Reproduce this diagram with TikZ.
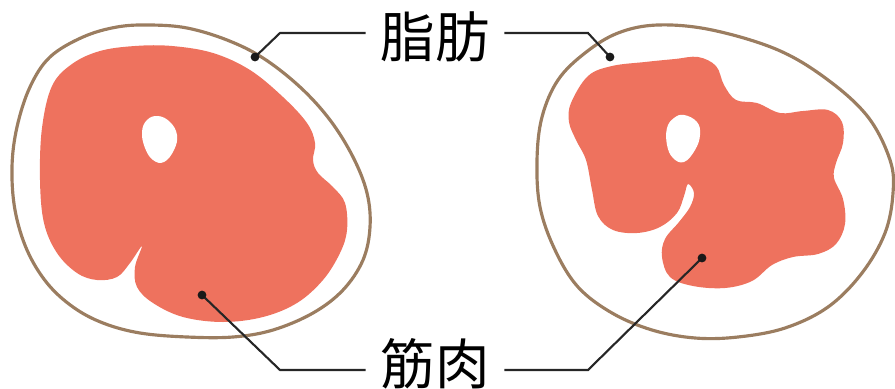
\documentclass[tikz,border=0pt]{standalone}
\usepackage{fontspec}
\newfontfamily\jpfont{Noto Sans CJK JP}
\definecolor{meat}{HTML}{EE725E}
\definecolor{skin}{HTML}{9B7D60}

\begin{document}
\begin{tikzpicture}[x=0.01cm,y=-0.01cm,
  outline/.style={draw=skin,line width=0.9pt},
  meatfill/.style={fill=meat},
  hole/.style={fill=white},
  leader/.style={draw=black!85,line width=0.6pt},
  tag/.style={font=\jpfont\fontsize{15.5}{18}\selectfont,inner sep=4pt}]
  \useasboundingbox (0,0) rectangle (895,388);

  % left cross-section
  \path[outline] plot[smooth cycle,tension=0.6] coordinates {
    (50,57) (83,37) (117,27) (150,25) (187,28) (227,40) (263,58) (300,87)
    (330,120) (353,157) (367,193) (370,227) (363,260) (343,290) (313,313)
    (273,330) (233,337) (187,337) (140,333) (103,323) (73,307) (47,283)
    (27,250) (15,210) (12,167) (17,127) (30,87)};
  \path[meatfill] plot[smooth cycle,tension=0.6] coordinates {
    (52,86) (72,64) (100,51) (135,46) (172,46) (213,53) (250,70) (283,97)
    (307,123) (315,143) (313,160) (318,173) (333,187) (345,203) (347,230)
    (340,253) (323,280) (297,303) (263,317) (223,322) (183,317) (153,303)
    (137,287) (135,267) (142,246) (130,263) (117,277) (97,280) (77,273)
    (57,253) (44,223) (40,180) (42,128)};
  \path[hole] plot[smooth cycle,tension=0.7] coordinates {
    (158,116) (170,122) (177,135) (174,150) (164,162) (153,160) (145,148)
    (142,132) (147,120)};

  % right cross-section
  \path[outline] plot[smooth cycle,tension=0.6] coordinates {
    (658,25) (712,30) (778,50) (828,80) (868,117) (890,160) (893,193)
    (885,233) (862,273) (828,307) (785,328) (738,337) (695,338) (652,330)
    (612,313) (578,287) (555,250) (540,207) (537,160) (542,117) (558,80)
    (585,53) (618,33)};
  \path[meatfill] plot[smooth cycle,tension=0.6] coordinates {
    (571,103) (588,76) (612,66) (645,62) (675,59) (698,57) (716,66)
    (724,85) (736,100) (757,103) (780,113) (803,111) (828,110) (842,122)
    (843,143) (836,163) (834,178) (843,199) (845,224) (836,244) (818,254)
    (793,257) (772,265) (752,281) (725,288) (693,286) (670,277) (662,257)
    (665,239) (679,222) (690,207) (694,193) (688,184) (684,196) (677,213)
    (660,227) (637,233) (613,230) (598,216) (592,190) (586,160) (576,140)
    (569,122)};
  \path[hole] plot[smooth cycle,tension=0.7] coordinates {
    (684,115) (697,122) (700,135) (695,150) (684,162) (673,158) (667,145)
    (667,128) (674,118)};

  % labels
  \node[tag] (fat) at (435,37) {脂肪};
  \node[tag] (muscle) at (435,364) {筋肉};

  \coordinate (fatL) at (255,57);
  \coordinate (fatR) at (610,57);
  \coordinate (muscleL) at (202,295);
  \coordinate (muscleR) at (702,258);
  \coordinate (fatLk) at (280,33);
  \coordinate (fatRk) at (588,33);
  \coordinate (muscleLk) at (280,370);
  \coordinate (muscleRk) at (588,370);

  \draw[leader] (fatL) -- (fatLk) -- (fatLk -| fat.west);
  \draw[leader] (fatR) -- (fatRk) -- (fatRk -| fat.east);
  \draw[leader] (muscleL) -- (muscleLk) -- (muscleLk -| muscle.west);
  \draw[leader] (muscleR) -- (muscleRk) -- (muscleRk -| muscle.east);
  \foreach \d in {fatL,fatR,muscleL,muscleR}
    \fill[black!90] (\d) circle[radius=1.25pt];
\end{tikzpicture}
\end{document}
